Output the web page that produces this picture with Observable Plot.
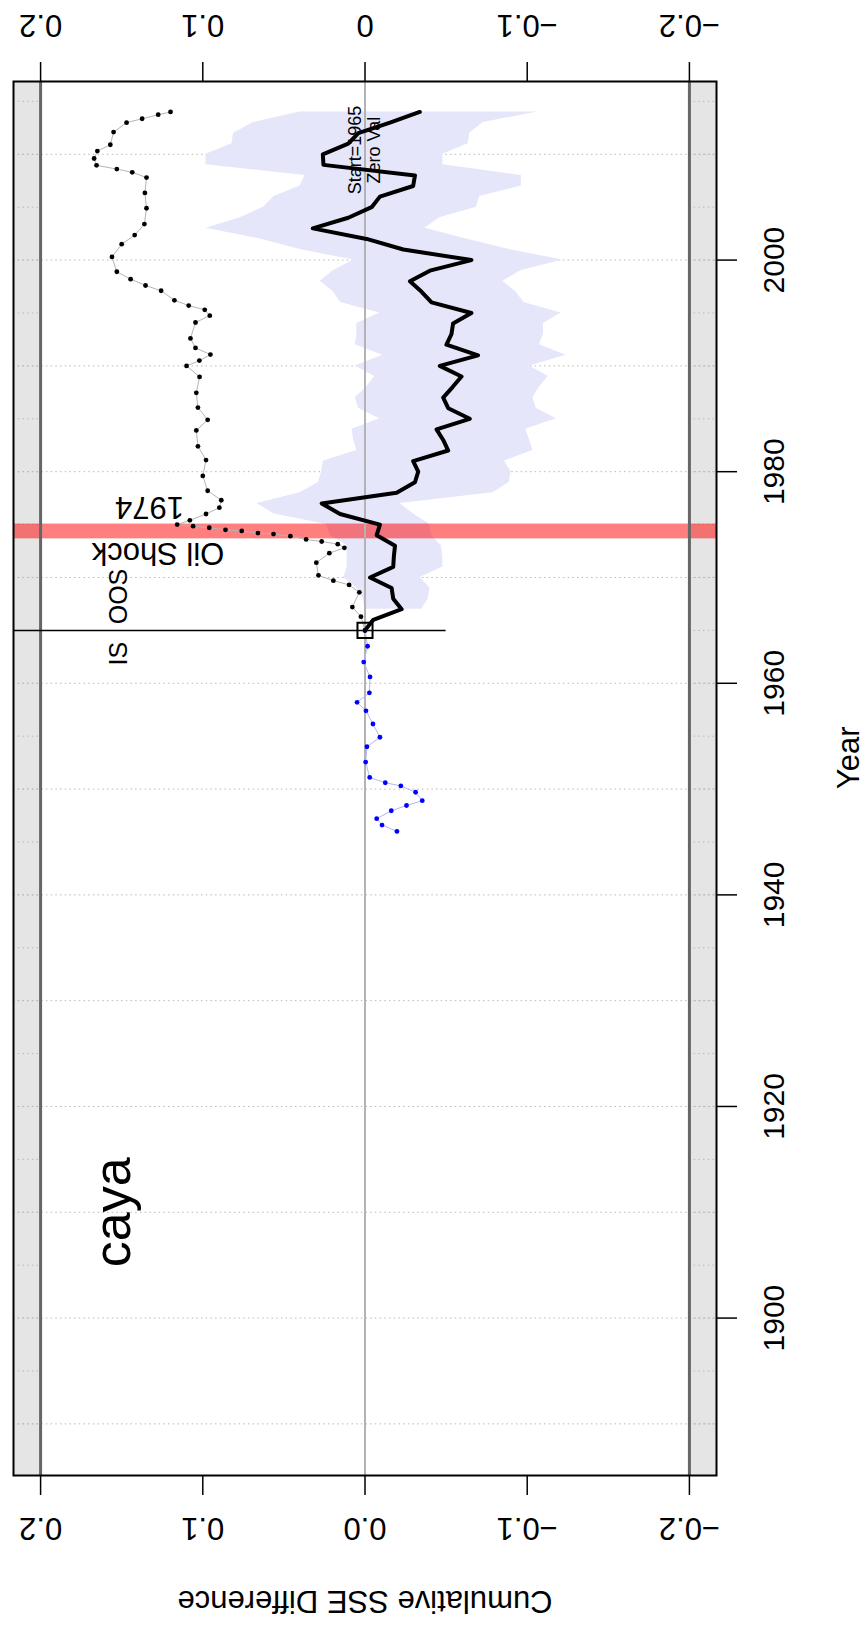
<!DOCTYPE html>
<html>
<head>
<meta charset="utf-8">
<script src="https://cdn.jsdelivr.net/npm/d3@7"></script>
<script src="https://cdn.jsdelivr.net/npm/@observablehq/plot@0.6"></script>
<style>
  html, body { margin: 0; padding: 0; background: #fff; }
  svg { display: block; }
</style>
</head>
<body>
<div id="chart"></div>
<script>
// ---------------- data ----------------
// Out-of-sample years for the cumulative SSE difference (thick black line)
const oosYears = [1965,1966,1967,1968,1969,1970,1971,1972,1973,1974,1975,1976,1977,1978,1979,1980,1981,1982,1983,1984,1985,1986,1987,1988,1989,1990,1991,1992,1993,1994,1995,1996,1997,1998,1999,2000,2001,2002,2003,2004,2005,2006,2007,2008,2009,2010,2011,2012,2013,2014];
const cumSSE = [0,-0.0051,-0.0226,-0.0174,-0.0164,-0.0031,-0.0174,-0.0178,-0.0185,-0.0072,-0.0092,0.0154,0.0267,-0.0195,-0.0308,-0.0328,-0.0297,-0.0513,-0.0482,-0.0441,-0.0646,-0.0513,-0.0482,-0.054,-0.0595,-0.0461,-0.0697,-0.0502,-0.0533,-0.0543,-0.0656,-0.041,-0.0349,-0.0277,-0.040,-0.0656,-0.0236,-0.001,0.0322,0.0103,-0.0041,-0.0092,-0.0297,-0.0308,0.0256,0.026,0.0103,0.0041,-0.0154,-0.0338];

// Confidence band (lavender), 1967-2014
const bandYears = [1967,1968,1969,1970,1971,1972,1973,1974,1975,1976,1977,1978,1979,1980,1981,1982,1983,1984,1985,1986,1987,1988,1989,1990,1991,1992,1993,1994,1995,1996,1997,1998,1999,2000,2001,2002,2003,2004,2005,2006,2007,2008,2009,2010,2011,2012,2013,2014];
const bandHi = [0,0.001,0.005,0.013,0.011,0.011,0.011,0.0215,0.0236,0.056,0.0666,0.040,0.0287,0.0267,0.0256,0.005,0.007,0.008,-0.009,0.004,0.006,-0.001,-0.006,0.006,-0.011,0.006,0.005,0.005,-0.009,0.015,0.0195,0.0277,0.0195,0.007,0.040,0.0646,0.098,0.077,0.0625,0.056,0.040,0.037,0.098,0.098,0.082,0.081,0.0687,0.040];
const bandLo = [-0.035,-0.039,-0.040,-0.034,-0.048,-0.048,-0.047,-0.041,-0.040,-0.030,-0.0215,-0.079,-0.089,-0.090,-0.086,-0.1035,-0.1015,-0.099,-0.118,-0.1055,-0.1035,-0.1076,-0.113,-0.1015,-0.124,-0.1076,-0.110,-0.110,-0.121,-0.098,-0.093,-0.085,-0.096,-0.122,-0.089,-0.0625,-0.037,-0.046,-0.0687,-0.0707,-0.0964,-0.0964,-0.048,-0.048,-0.0636,-0.0646,-0.0728,-0.1066];

// Dotted black series (positions along the year axis as drawn)
const dotYears = [2014.0,2013.74,2013.36,2012.99,2012.1,2010.9,2010.3,2009.6,2008.96,2008.6,2008.3,2007.8,2006.35,2004.9,2003.4,2002.36,2001.5,2000.3,1998.9,1998.2,1997.6,1997.1,1996.2,1995.7,1995.3,1994.75,1994.1,1992.6,1991.7,1991.07,1990.5,1990.0,1988.96,1987.45,1986.06,1984.9,1983.9,1982.4,1981.1,1979.6,1978.2,1977.3,1976.6,1976.0,1975.4,1975.0,1974.85,1974.7,1974.5,1974.4,1974.2,1974.1,1973.9,1973.6,1973.4,1973.15,1972.8,1972.3,1971.4,1970.2,1969.7,1969.3,1968.6,1967.2,1966.3,1965.0];
const dotVals = [0.1199,0.1275,0.1374,0.147,0.155,0.157,0.165,0.167,0.1655,0.153,0.1435,0.1347,0.1357,0.1347,0.136,0.142,0.150,0.156,0.153,0.1445,0.1353,0.1257,0.1175,0.1087,0.0988,0.0957,0.1045,0.1076,0.1045,0.0953,0.1021,0.110,0.102,0.104,0.103,0.097,0.104,0.103,0.098,0.100,0.097,0.0886,0.0898,0.098,0.108,0.1158,0.106,0.096,0.086,0.076,0.066,0.0564,0.046,0.0363,0.0267,0.0168,0.0127,0.022,0.030,0.0287,0.0195,0.0098,0.0035,0.0078,0.0025,0];

// In-sample blue series
const isYears = [1965.0,1963.5,1962.0,1960.6,1959.1,1958.2,1957.4,1956.15,1954.9,1954.0,1952.55,1951.1,1950.6,1950.3,1949.7,1948.9,1948.45,1947.95,1947.2,1946.6,1946.0];
const isVals = [0,-0.0016,0.0008,-0.0031,-0.0027,0.0049,-0.0006,-0.0049,-0.0092,-0.0012,-0.0004,-0.0029,-0.0125,-0.0221,-0.0312,-0.0353,-0.0256,-0.0162,-0.0072,-0.0105,-0.0197];

// Axis ticks and labels
const valueTicks = [0.2, 0.1, 0, -0.1, -0.2];
const topLabels = ["0.2", "0.1", "0", "\u22120.1", "\u22120.2"];
const bottomLabels = ["0.2", "0.1", "0.0", "\u22120.1", "\u22120.2"];
const yearTicks = [1900, 1920, 1940, 1960, 1980, 2000];
const yearTickLabels = ["1900", "1920", "1940", "1960", "1980", "2000"];
const grid10 = [1890,1900,1910,1920,1930,1940,1950,1960,1970,1980,1990,2000,2010];
const grid5 = [1890,1895,1900,1905,1910,1915,1920,1925,1930,1935,1940,1945,1950,1955,1960,1965,1970,1975,1980,1985,1990,1995,2000,2005,2010,2015];

// Scale extents and reference values
const xDomain = [0.2167, -0.2167];
const yDomain = [1885.12, 2016.88];
const bounds = [0.2, -0.2];
const splitYear = 1965;
const splitEnd = -0.05;
const oilShock = [1973.65, 1975.05];

// Annotations
const labelCaya = [{year: 1910, v: 0.155, text: "caya"}];
const labelOil = [{year: 1972.3, v: 0.1276, text: "Oil Shock"}, {year: 1976.7, v: 0.1328, text: "1974"}];
const labelIS = [{year: 1962.8, v: 0.1516, text: "IS"}, {year: 1968.2, v: 0.1516, text: "OOS"}];
const labelStart = [{year: 2010.4, v: 0.0003, text: "Start=1965\nZero Val"}];
const xTitle = "Cumulative SSE Difference";
const yTitle = "Year";

// ---------------- build tables ----------------
const cumData = oosYears.map((y, i) => ({year: y, v: cumSSE[i]}));
const bandData = bandYears.map((y, i) => ({year: y, hi: bandHi[i], lo: bandLo[i]}));
const dotData = dotYears.map((y, i) => ({year: y, v: dotVals[i]}));
const isData = isYears.map((y, i) => ({year: y, v: isVals[i]}));
const topMap = new Map(valueTicks.map((t, i) => [t, topLabels[i]]));
const botMap = new Map(valueTicks.map((t, i) => [t, bottomLabels[i]]));
const yearMap = new Map(yearTicks.map((t, i) => [t, yearTickLabels[i]]));
const strips = [[xDomain[0], bounds[0]], [bounds[1], xDomain[1]]];

const FONT = "Liberation Sans, Arial, Helvetica, sans-serif";

const chart = Plot.plot({
  width: 868,
  height: 1634,
  marginLeft: 13,
  marginRight: 152,
  marginTop: 81,
  marginBottom: 159,
  style: {fontFamily: FONT, fontSize: "30px", background: "white", color: "black"},
  x: {domain: xDomain},
  y: {domain: yDomain},
  marks: [
    Plot.rect(strips, {x1: d => d[0], x2: d => d[1], y1: yDomain[0], y2: yDomain[1], fill: "#e5e5e5"}),
    Plot.ruleY(grid10, {stroke: "#b8b8b8", strokeWidth: 1, strokeDasharray: "1.5,3.2"}),
    Plot.ruleY(grid5, {x1: xDomain[0], x2: bounds[0], stroke: "#b8b8b8", strokeWidth: 1, strokeDasharray: "1.5,3.2"}),
    Plot.ruleY(grid5, {x1: bounds[1], x2: xDomain[1], stroke: "#b8b8b8", strokeWidth: 1, strokeDasharray: "1.5,3.2"}),
    Plot.areaX(bandData, {y: "year", x1: "lo", x2: "hi", fill: "#e6e6fa"}),
    Plot.rect([oilShock], {y1: d => d[0], y2: d => d[1], x1: xDomain[0], x2: xDomain[1], fill: "red", fillOpacity: 0.5}),
    Plot.ruleX([0], {stroke: "#b3b3b3", strokeWidth: 2}),
    Plot.ruleX(bounds, {stroke: "#666666", strokeWidth: 3}),
    Plot.ruleY([splitYear], {x1: xDomain[0], x2: splitEnd, stroke: "black", strokeWidth: 1.5}),
    Plot.line(isData, {x: "v", y: "year", stroke: "#b4b4f4", strokeWidth: 1}),
    Plot.dot(isData, {x: "v", y: "year", r: 2.4, fill: "blue"}),
    Plot.line(dotData, {x: "v", y: "year", stroke: "#b5b5b5", strokeWidth: 1}),
    Plot.dot(dotData, {x: "v", y: "year", r: 2.4, fill: "black"}),
    Plot.line(cumData, {x: "v", y: "year", stroke: "black", strokeWidth: 4}),
    Plot.dot([cumData[0]], {x: "v", y: "year", symbol: "square", r: 8.5, stroke: "black", strokeWidth: 2, fill: "none"}),
    Plot.text(labelCaya, {x: "v", y: "year", text: "text", rotate: -90, fontSize: 52, lineAnchor: "middle"}),
    Plot.text(labelOil, {x: "v", y: "year", text: "text", rotate: 180, fontSize: 31, lineAnchor: "middle"}),
    Plot.text(labelIS, {x: "v", y: "year", text: "text", rotate: -90, fontSize: 25, lineAnchor: "middle"}),
    Plot.text(labelStart, {x: "v", y: "year", text: "text", rotate: -90, fontSize: 18, lineAnchor: "middle", lineHeight: 1.05}),
    Plot.axisX({anchor: "top", ticks: valueTicks, tickFormat: d => topMap.get(d), tickSize: 20, tickRotate: 180,
      textAnchor: "middle", lineAnchor: "middle", tickPadding: 37, fontSize: 31, strokeWidth: 1.5, label: null}),
    Plot.axisX({anchor: "bottom", ticks: valueTicks, tickFormat: d => botMap.get(d), tickSize: 20, tickRotate: 180,
      textAnchor: "middle", lineAnchor: "middle", tickPadding: 32, fontSize: 31, strokeWidth: 1.5, label: null}),
    Plot.axisY({anchor: "right", ticks: yearTicks, tickFormat: d => yearMap.get(d), tickSize: 20, tickRotate: -90,
      textAnchor: "middle", lineAnchor: "middle", tickPadding: 38, fontSize: 30, strokeWidth: 1.5, label: null}),
    Plot.text([xTitle], {text: d => d, frameAnchor: "bottom", dy: 125, rotate: 180, fontSize: 31, lineAnchor: "middle"}),
    Plot.text([yTitle], {text: d => d, frameAnchor: "right", dx: 133, dy: -52, rotate: -90, fontSize: 31, lineAnchor: "middle"}),
    Plot.frame({stroke: "black", strokeWidth: 2})
  ]
});
document.getElementById("chart").appendChild(chart);
</script>
</body>
</html>
